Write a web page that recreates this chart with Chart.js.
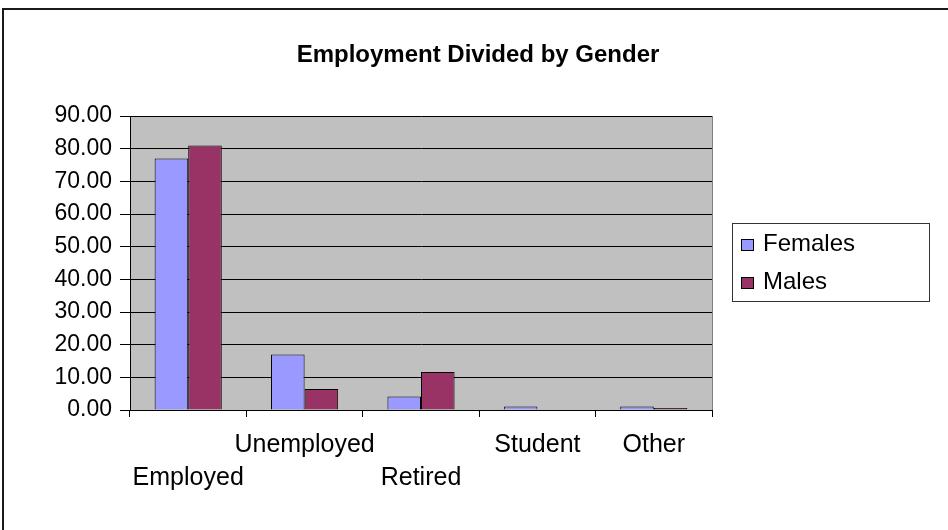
<!DOCTYPE html>
<html>
<head>
<meta charset="utf-8">
<script src="https://cdn.jsdelivr.net/npm/chart.js@4/dist/chart.umd.min.js"></script>
<style>
  html, body { margin: 0; padding: 0; background: #fff; }
  canvas { display: block; }
</style>
</head>
<body>
<canvas id="chart" width="948" height="530"></canvas>
<script>
// Employment status, percentage of each gender
const categories = ['Employed', 'Unemployed', 'Retired', 'Student', 'Other'];
const females = [77.0, 17.0, 4.1, 1.1, 1.1];
const males = [81.0, 6.4, 11.6, 0, 0.6];
const seriesNames = ['Females', 'Males'];
const yMin = 0, yMax = 90, yStep = 10;
// which text row each category label sits on (staggered axis labels)
const labelRow = [2, 1, 2, 1, 1];
const chartTitle = 'Employment Divided by Gender';

const FONT = '"Liberation Sans", Arial, sans-serif';

const frame = {
  id: 'frame',
  beforeDraw(chart) {
    const { ctx, chartArea: a } = chart;
    ctx.save();
    ctx.fillStyle = '#fff';
    ctx.fillRect(0, 0, chart.width, chart.height);
    // plot area fill
    ctx.fillStyle = '#C0C0C0';
    ctx.fillRect(a.left, a.top, a.right - a.left, a.bottom - a.top);
    // outer chart border (top and left edges visible)
    ctx.strokeStyle = '#1a1a1a';
    ctx.lineWidth = 2;
    ctx.beginPath();
    ctx.moveTo(3, chart.height + 5);
    ctx.lineTo(3, 9);
    ctx.lineTo(chart.width + 5, 9);
    ctx.stroke();
    ctx.restore();
  },
  afterDraw(chart) {
    const { ctx, chartArea: a } = chart;
    ctx.save();
    // plot area right border
    ctx.strokeStyle = '#808080';
    ctx.lineWidth = 1;
    ctx.beginPath();
    ctx.moveTo(Math.round(a.right) + 0.5, a.top);
    ctx.lineTo(Math.round(a.right) + 0.5, a.bottom);
    ctx.stroke();

    // title
    ctx.fillStyle = '#000';
    ctx.font = 'bold 24px ' + FONT;
    ctx.textAlign = 'center';
    ctx.textBaseline = 'middle';
    ctx.fillText(chartTitle, chart.width / 2 + 4, 55);

    // legend
    const lx = a.right + 20, ly = 223, lw = 197, lh = 78;
    ctx.strokeStyle = '#333';
    ctx.lineWidth = 1;
    ctx.strokeRect(lx + 0.5, ly + 0.5, lw, lh);
    ctx.font = '24px ' + FONT;
    ctx.textAlign = 'left';
    chart.data.datasets.forEach((ds, i) => {
      const cy = ly + 21 + i * 38;
      ctx.fillStyle = ds.backgroundColor;
      ctx.fillRect(lx + 9, cy - 5, 13, 12);
      ctx.strokeStyle = '#000';
      ctx.strokeRect(lx + 9.5, cy - 4.5, 12, 11);
      ctx.fillStyle = '#000';
      ctx.fillText(ds.label, lx + 31, cy);
    });
    ctx.restore();
  }
};

new Chart(document.getElementById('chart'), {
  type: 'bar',
  data: {
    labels: categories,
    datasets: [
      { label: seriesNames[0], data: females, backgroundColor: '#9999FF', borderColor: '#000', borderWidth: 1 },
      { label: seriesNames[1], data: males, backgroundColor: '#993366', borderColor: '#000', borderWidth: 1 }
    ]
  },
  options: {
    responsive: false,
    animation: false,
    events: [],
    layout: { padding: { left: 0, top: 116, right: 236, bottom: 0 } },
    datasets: { bar: { categoryPercentage: 0.577, barPercentage: 1.0 } },
    plugins: { legend: { display: false }, title: { display: false }, tooltip: { enabled: false } },
    scales: {
      x: {
        grid: { display: true, drawOnChartArea: false, offset: true, tickLength: 7, color: '#000' },
        border: { color: '#000', width: 1 },
        ticks: {
          autoSkip: false, maxRotation: 0, minRotation: 0, padding: 12, color: '#000',
          font: { family: FONT, size: 25, lineHeight: 1.3 },
          callback(v, i) { const t = categories[i]; return labelRow[i] === 2 ? ['', t] : t; }
        },
        afterFit(s) { s.height = 120; }
      },
      y: {
        min: yMin, max: yMax,
        grid: { color: '#000', tickLength: 10, lineWidth: 1 },
        border: { color: '#000', width: 1 },
        ticks: {
          stepSize: yStep, padding: 8, color: '#000',
          font: { family: FONT, size: 23 },
          callback: v => Number(v).toFixed(2)
        },
        afterFit(s) { s.width = 130; }
      }
    }
  },
  plugins: [frame]
});
</script>
</body>
</html>
